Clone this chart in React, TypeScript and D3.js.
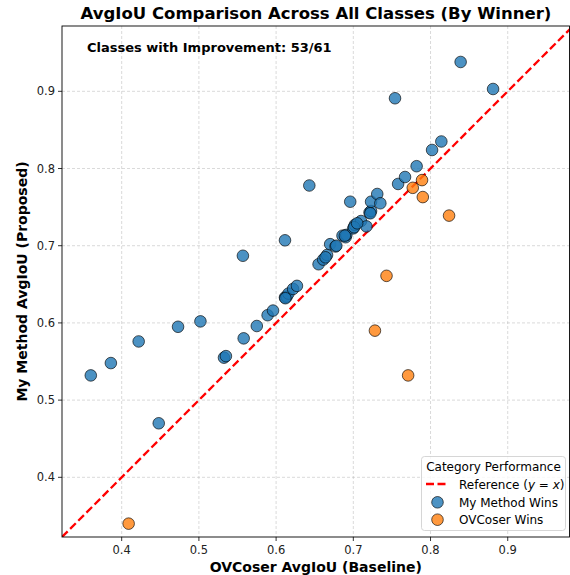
import React from 'react';
import * as d3 from 'd3';

// baseline (OVCoser) and proposed AvgIoU per class, split by winner
const myWinsBase = [
  0.360, 0.386, 0.422, 0.448, 0.473, 0.502, 0.5325, 0.535, 0.557, 0.558,
  0.575, 0.589, 0.596, 0.6115, 0.6137, 0.616, 0.622, 0.627, 0.6115, 0.643,
  0.655, 0.661, 0.666, 0.670, 0.677, 0.686, 0.690, 0.691, 0.696, 0.700,
  0.702, 0.710, 0.717, 0.721, 0.723, 0.723, 0.731, 0.735, 0.754, 0.758,
  0.767, 0.782, 0.802, 0.814, 0.839, 0.881, 0.612, 0.689, 0.701, 0.678,
  0.722, 0.664, 0.705,
];
const myWinsProp = [
  0.532, 0.548, 0.576, 0.470, 0.595, 0.602, 0.555, 0.557, 0.687, 0.580,
  0.596, 0.610, 0.616, 0.633, 0.634, 0.638, 0.644, 0.648, 0.707, 0.778,
  0.676, 0.682, 0.688, 0.702, 0.699, 0.713, 0.711, 0.714, 0.757, 0.7225,
  0.727, 0.732, 0.725, 0.743, 0.745, 0.757, 0.767, 0.755, 0.891, 0.780,
  0.789, 0.803, 0.824, 0.835, 0.938, 0.903, 0.632, 0.713, 0.724, 0.700,
  0.742, 0.685, 0.729,
];
const ovWinsBase = [0.789, 0.777, 0.790, 0.824, 0.743, 0.728, 0.771, 0.409];
const ovWinsProp = [0.785, 0.775, 0.763, 0.739, 0.661, 0.590, 0.532, 0.340];

const xTicks = [0.4, 0.5, 0.6, 0.7, 0.8, 0.9];
const yTicks = [0.4, 0.5, 0.6, 0.7, 0.8, 0.9];

const W = 570, H = 575;
const left = 62, right = 569.5, top = 26, bottom = 537;
const font = 'DejaVu Sans, sans-serif';
const blue = '#1f77b4', orange = '#ff7f0e';

export default function App() {
  const x = d3.scaleLinear().domain([0.3227, 0.980]).range([left, right]);
  const y = d3.scaleLinear().domain([0.3227, 0.9846]).range([bottom, top]);
  const lo = 0.3227, hi = 0.9846;

  const dots = (bx: number[], py: number[], color: string) =>
    bx.map((v, i) => (
      <circle key={color + i} cx={x(v)} cy={y(py[i])} r={5.8}
        fill={color} fillOpacity={0.8} stroke="#000" strokeOpacity={0.8} strokeWidth={0.8} />
    ));

  return (
    <svg width={W} height={H} style={{ position: 'absolute', left: 0, top: 0, background: '#fff' }}
      fontFamily={font}>
      <defs>
        <clipPath id="plot"><rect x={left} y={top} width={right - left} height={bottom - top} /></clipPath>
      </defs>
      <rect width={W} height={H} fill="#fff" />
      {/* grid */}
      {xTicks.map(t => (
        <line key={'gx' + t} x1={x(t)} x2={x(t)} y1={top} y2={bottom}
          stroke="#b0b0b0" strokeOpacity={0.6} strokeWidth={0.8} strokeDasharray="3,2" />
      ))}
      {yTicks.map(t => (
        <line key={'gy' + t} y1={y(t)} y2={y(t)} x1={left} x2={right}
          stroke="#b0b0b0" strokeOpacity={0.6} strokeWidth={0.8} strokeDasharray="3,2" />
      ))}
      <g clipPath="url(#plot)">
        <line x1={x(lo)} y1={y(lo)} x2={x(hi)} y2={y(hi)} stroke="#ff0000"
          strokeWidth={2.3} strokeDasharray="8,3.5" />
        {dots(myWinsBase, myWinsProp, blue)}
        {dots(ovWinsBase, ovWinsProp, orange)}
      </g>
      {/* frame */}
      <rect x={left} y={top} width={right - left} height={bottom - top} fill="none" stroke="#000" strokeWidth={0.9} />
      {/* ticks */}
      {xTicks.map(t => (
        <g key={'tx' + t}>
          <line x1={x(t)} x2={x(t)} y1={bottom} y2={bottom + 4} stroke="#000" strokeWidth={0.8} />
          <text x={x(t)} y={bottom + 17} textAnchor="middle" fontSize={11.5} fill="#222">{t.toFixed(1)}</text>
        </g>
      ))}
      {yTicks.map(t => (
        <g key={'ty' + t}>
          <line x1={left - 4} x2={left} y1={y(t)} y2={y(t)} stroke="#000" strokeWidth={0.8} />
          <text x={left - 7} y={y(t) + 4} textAnchor="end" fontSize={11.5} fill="#222">{t.toFixed(1)}</text>
        </g>
      ))}
      {/* labels */}
      <text x={316} y={19} textAnchor="middle" fontSize={16.5} fontWeight="bold">
        AvgIoU Comparison Across All Classes (By Winner)
      </text>
      <text x={(left + right) / 2} y={572} textAnchor="middle" fontSize={14} fontWeight="bold">
        OVCoser AvgIoU (Baseline)
      </text>
      <text transform={`translate(27,${(top + bottom) / 2}) rotate(-90)`} textAnchor="middle"
        fontSize={14} fontWeight="bold">My Method AvgIoU (Proposed)</text>
      <text x={87} y={52} fontSize={13} fontWeight="bold">Classes with Improvement: 53/61</text>
      {/* legend */}
      <g>
        <rect x={421.5} y={456.5} width={144} height={74} rx={3} fill="#fff" fillOpacity={0.8}
          stroke="#ccc" strokeWidth={0.8} />
        <text x={493.5} y={471} textAnchor="middle" fontSize={12}>Category Performance</text>
        <line x1={426} x2={448} y1={484} y2={484} stroke="#ff0000" strokeWidth={2.3} strokeDasharray="8,3.5" />
        <text x={459} y={488.5} fontSize={12}>
          Reference (<tspan fontStyle="italic">y</tspan> = <tspan fontStyle="italic">x</tspan>)
        </text>
        <circle cx={437.5} cy={502.3} r={5.8} fill={blue} fillOpacity={0.8} stroke="#000" strokeOpacity={0.8} strokeWidth={0.8} />
        <text x={459} y={506.5} fontSize={12}>My Method Wins</text>
        <circle cx={437.5} cy={519.7} r={5.8} fill={orange} fillOpacity={0.8} stroke="#000" strokeOpacity={0.8} strokeWidth={0.8} />
        <text x={459} y={524} fontSize={12}>OVCoser Wins</text>
      </g>
    </svg>
  );
}
